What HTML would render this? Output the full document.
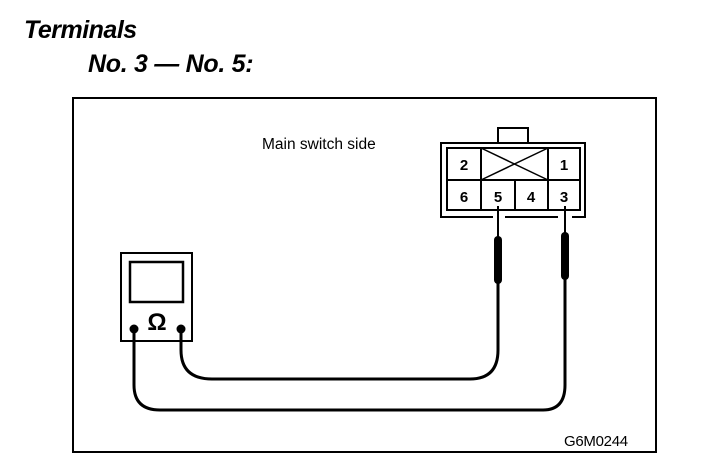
<!DOCTYPE html>
<html><head><meta charset="utf-8"><style>
html,body{margin:0;padding:0;background:#fff;width:704px;height:474px;overflow:hidden}
</style></head><body>
<svg width="704" height="474" viewBox="0 0 704 474" xmlns="http://www.w3.org/2000/svg" style="display:block">
<g font-family="Liberation Sans, Arial, sans-serif" fill="#000">
<text x="24" y="38" font-size="25" font-weight="bold" font-style="italic" letter-spacing="-0.5">Terminals</text>
<text x="88" y="72" font-size="25" font-weight="bold" font-style="italic" letter-spacing="-0.3">No. 3 — No. 5:</text>
<text x="262" y="149" font-size="15.5">Main switch side</text>
<text x="564" y="446" font-size="15" letter-spacing="-0.3">G6M0244</text>
</g>
<rect x="73" y="98" width="583" height="354" fill="none" stroke="#000" stroke-width="2"/>
<g fill="none" stroke="#000" stroke-width="2">
<rect x="498" y="128" width="30" height="15"/>
<rect x="441" y="143" width="144" height="74" fill="#fff"/>
<rect x="447" y="148" width="133" height="62"/>
<line x1="447" y1="180" x2="580" y2="180"/>
<line x1="481" y1="148" x2="481" y2="210"/>
<line x1="548" y1="148" x2="548" y2="210"/>
<line x1="515" y1="180" x2="515" y2="210"/>
<line x1="481" y1="148" x2="548" y2="180" stroke-width="1.5"/>
<line x1="548" y1="148" x2="481" y2="180" stroke-width="1.5"/>
</g>
<line x1="493" y1="217" x2="505" y2="217" stroke="#fff" stroke-width="4"/>
<line x1="558" y1="217" x2="572" y2="217" stroke="#fff" stroke-width="4"/>
<g font-family="Liberation Sans, Arial, sans-serif" font-size="15" font-weight="bold" text-anchor="middle">
<text x="464" y="170">2</text><text x="564" y="170">1</text>
<text x="464" y="202">6</text><text x="498" y="202">5</text><text x="531" y="202">4</text><text x="564" y="202">3</text>
</g>
<g stroke="#000" fill="none">
<line x1="498" y1="206" x2="498" y2="290" stroke-width="2"/>
<line x1="565" y1="206" x2="565" y2="290" stroke-width="2"/>
</g>
<rect x="494" y="236" width="8" height="48" rx="4" fill="#000"/>
<rect x="561" y="232" width="8" height="48" rx="4" fill="#000"/>
<rect x="121" y="253" width="71" height="88" fill="#fff" stroke="#000" stroke-width="2"/>
<rect x="130" y="262" width="53" height="40" fill="none" stroke="#000" stroke-width="2.5"/>
<text x="157" y="330" font-family="Liberation Sans, Arial, sans-serif" font-size="24" font-weight="bold" text-anchor="middle">Ω</text>
<path d="M181 330 V350 Q181 379 212 379 H470 Q498 379 498 350 V280" fill="none" stroke="#000" stroke-width="3"/>
<path d="M134 330 V385 Q134 410 160 410 H543 Q565 410 565 385 V278" fill="none" stroke="#000" stroke-width="3"/>
<circle cx="134" cy="329" r="4.5" fill="#000"/>
<circle cx="181" cy="329" r="4.5" fill="#000"/>
</svg>
</body></html>
